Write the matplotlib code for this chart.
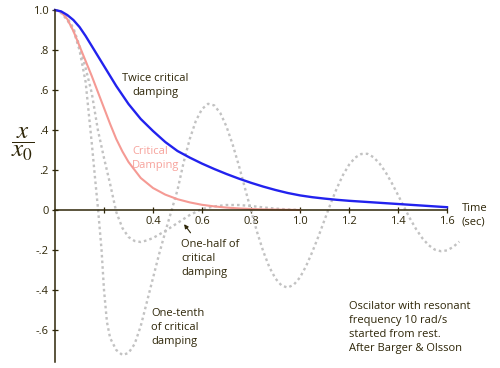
import matplotlib.pyplot as plt

plt.rcParams['font.family'] = ['Open Sans', 'DejaVu Sans']
plt.rcParams['mathtext.fontset'] = 'stix'

# values
t_main = [0.0, 0.025, 0.05, 0.075, 0.1, 0.125, 0.15, 0.175, 0.2, 0.225, 0.25,
          0.275, 0.3, 0.35, 0.4, 0.45, 0.5,
          0.55, 0.6, 0.65, 0.7, 0.75, 0.8, 0.85, 0.9, 0.95, 1.0,
          1.05, 1.1, 1.15, 1.2, 1.25, 1.3, 1.35, 1.4, 1.45, 1.5, 1.55, 1.6]
twice_critical = [1.0, 0.993, 0.975, 0.95, 0.915, 0.87, 0.82, 0.77, 0.72, 0.67, 0.62,
                  0.575, 0.53, 0.455, 0.395, 0.34, 0.295,
                  0.262, 0.232, 0.205, 0.18, 0.157, 0.136, 0.117, 0.1, 0.085, 0.073,
                  0.064, 0.057, 0.051, 0.046, 0.042, 0.038, 0.034, 0.03, 0.026, 0.022, 0.018, 0.014]
critical = [1.0, 0.99, 0.955, 0.895, 0.82, 0.745, 0.67, 0.59, 0.51, 0.43, 0.355,
            0.293, 0.24, 0.16, 0.11, 0.077, 0.054,
            0.038, 0.026, 0.018, 0.012, 0.008, 0.005, 0.003, 0.002, 0.001, 0.0]

t_half = [0.0, 0.025, 0.05, 0.075, 0.1, 0.125, 0.15, 0.175, 0.2, 0.225, 0.25,
          0.275, 0.3, 0.325, 0.35, 0.375, 0.4, 0.45, 0.5, 0.55, 0.6,
          0.65, 0.7, 0.75, 0.8, 0.85, 0.9, 0.95, 1.0]
half_critical = [1.0, 0.99, 0.96, 0.91, 0.82, 0.71, 0.585, 0.4, 0.26, 0.13, -0.01,
                 -0.09, -0.135, -0.155, -0.16, -0.152, -0.14, -0.105, -0.065, -0.025, 0.005,
                 0.018, 0.025, 0.025, 0.02, 0.013, 0.007, 0.003, 0.0]

t_tenth = [0.0, 0.025, 0.05, 0.075, 0.1, 0.125, 0.15, 0.163, 0.176, 0.19, 0.2,
           0.212, 0.225, 0.25, 0.275, 0.3, 0.325, 0.35, 0.375, 0.4, 0.425,
           0.45, 0.475, 0.5, 0.525, 0.55, 0.575, 0.6, 0.625, 0.65, 0.675,
           0.7, 0.725, 0.75, 0.775, 0.8, 0.825, 0.85, 0.875, 0.9, 0.925,
           0.95, 0.975, 1.0, 1.025, 1.05, 1.075, 1.1, 1.125, 1.15, 1.175,
           1.2, 1.225, 1.25, 1.275, 1.3, 1.325, 1.35, 1.375, 1.4, 1.425,
           1.45, 1.475, 1.5, 1.525, 1.55, 1.575, 1.6, 1.625, 1.65]
tenth_critical = [1.0, 0.985, 0.95, 0.9, 0.8, 0.64, 0.335, 0.165, 0.0, -0.2, -0.4,
                  -0.56, -0.64, -0.7, -0.725, -0.715, -0.67, -0.58, -0.46, -0.34, -0.22,
                  -0.11, -0.005, 0.1, 0.238, 0.355, 0.446, 0.505, 0.531, 0.523, 0.484,
                  0.417, 0.328, 0.224, 0.111, -0.003, -0.111, -0.207, -0.286, -0.343, -0.378,
                  -0.388, -0.373, -0.337, -0.28, -0.21, -0.133, -0.05, 0.032, 0.108, 0.174,
                  0.226, 0.262, 0.28, 0.281, 0.264, 0.232, 0.188, 0.134, 0.075, 0.014,
                  -0.045, -0.098, -0.142, -0.176, -0.198, -0.206, -0.202, -0.185, -0.158]

x_ticks = [0.2, 0.4, 0.6, 0.8, 1.0, 1.2, 1.4, 1.6]
x_tick_labels = ['', '0.4', '0.6', '0.8', '1.0', '1.2', '1.4', '1.6']
y_ticks = [1.0, 0.8, 0.6, 0.4, 0.2, 0.0, -0.2, -0.4, -0.6]
y_tick_labels = ['1.0', '.8', '.6', '.4', '.2', '0', '-.2', '-.4', '-.6']

dark = '#2e2608'
grey = '#c2c2c2'

fig = plt.figure(figsize=(5, 3.68), dpi=100)
ax = fig.add_axes([0, 0, 1, 1])
ax.set_xlim(-0.2245, 1.8163)
ax.set_ylim(-0.79, 1.05)

ax.plot(t_tenth, tenth_critical, color=grey, lw=1.7, ls=(0, (1.1, 1.3)))
ax.plot(t_half, half_critical, color=grey, lw=1.7, ls=(0, (1.1, 1.3)))
ax.plot(t_main[:len(critical)], critical, color='#f59a94', lw=1.5)
ax.plot(t_main, twice_critical, color='#2222ee', lw=1.7)

for s in ['top', 'right']:
    ax.spines[s].set_visible(False)
ax.spines['left'].set_position(('data', 0))
ax.spines['bottom'].set_position(('data', 0))
ax.spines['left'].set_bounds(-0.76, 1.0)
ax.spines['bottom'].set_bounds(0, 1.6)
for s in ['left', 'bottom']:
    ax.spines[s].set_color(dark)
    ax.spines[s].set_linewidth(1.1)

ax.set_xticks(x_ticks)
ax.set_xticklabels(x_tick_labels)
ax.set_yticks(y_ticks)
ax.set_yticklabels(y_tick_labels)
ax.tick_params(direction='inout', length=5, width=0.9, colors=dark,
               labelsize=8, pad=2)

ax.text(-0.131, 0.33, r'$\dfrac{x}{x_0}$', fontsize=18, color=dark,
        ha='center', va='center')
ax.text(1.661, -0.0275, 'Time\n(sec)', fontsize=8, color=dark,
        ha='left', va='center', linespacing=1.35)
ax.text(0.408, 0.6225, 'Twice critical\ndamping', fontsize=8, color=dark,
        ha='center', va='center', linespacing=1.35)
ax.text(0.314, 0.2575, 'Critical\nDamping', fontsize=8, color='#f7a39c',
        ha='left', va='center', linespacing=1.35)
ax.text(0.514, -0.2425, 'One-half of\ncritical\ndamping', fontsize=8, color=dark,
        ha='left', va='center', linespacing=1.35)
ax.text(0.392, -0.5875, 'One-tenth\nof critical\ndamping', fontsize=8, color=dark,
        ha='left', va='center', linespacing=1.35)
ax.text(1.2, -0.5875, 'Oscilator with resonant\nfrequency 10 rad/s\nstarted from rest.\nAfter Barger & Olsson',
        fontsize=8, color=dark, ha='left', va='center', linespacing=1.35)
ax.annotate('', xy=(0.52, -0.06), xytext=(0.56, -0.125),
            arrowprops=dict(arrowstyle='-|>', color=dark, lw=0.8, mutation_scale=6))

fig.savefig('out.png', dpi=100)
